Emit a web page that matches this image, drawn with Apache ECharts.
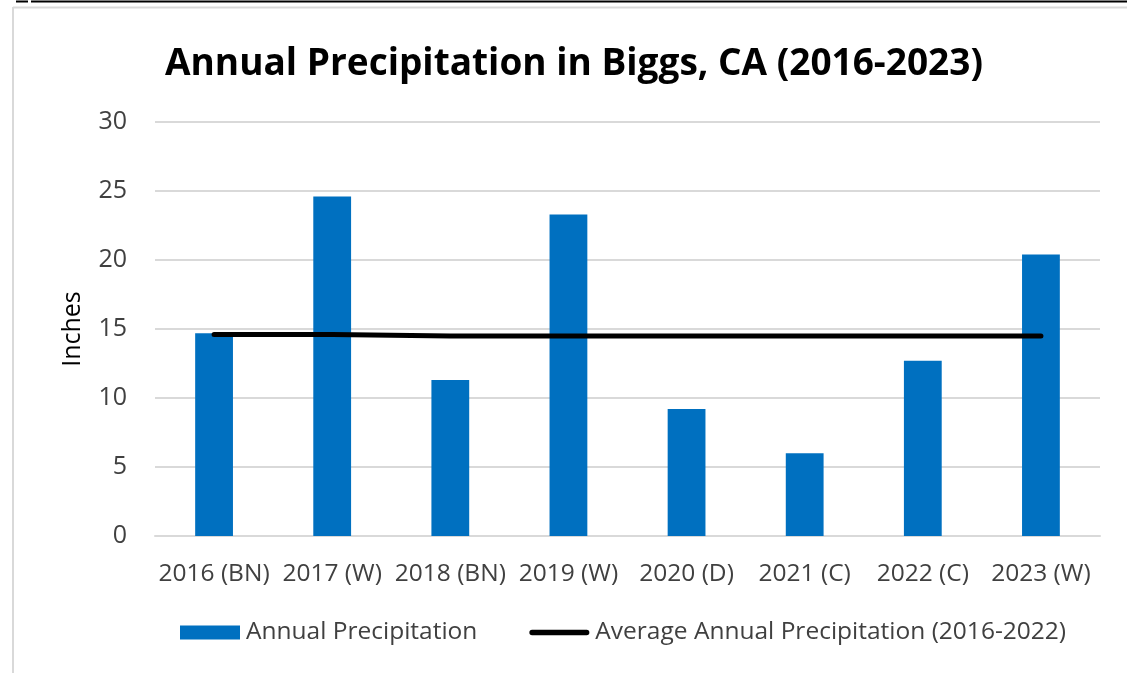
<!DOCTYPE html>
<html>
<head>
<meta charset="utf-8">
<script src="https://cdn.jsdelivr.net/npm/echarts@6/dist/echarts.min.js"></script>
<style>
html,body{margin:0;padding:0;background:#fff;}
#chart{width:1127px;height:673px;}
</style>
</head>
<body>
<div id="chart"></div>
<script>
const categories = ['2016 (BN)', '2017 (W)', '2018 (BN)', '2019 (W)', '2020 (D)', '2021 (C)', '2022 (C)', '2023 (W)'];
const annualPrecip = [14.7, 24.6, 11.3, 23.3, 9.2, 6.0, 12.7, 20.4];
const avgPrecip = [14.6, 14.6, 14.5, 14.5, 14.5, 14.5, 14.5, 14.5];
const yTicks = { min: 0, max: 30, interval: 5 };
const titleText = 'Annual Precipitation in Biggs, CA (2016-2023)';
const yName = 'Inches';
const seriesNames = ['Annual Precipitation', 'Average Annual Precipitation (2016-2022)'];

const FONT = '"Open Sans", "Noto Sans", sans-serif';
const chart = echarts.init(document.getElementById('chart'), null, { renderer: 'canvas' });
chart.setOption({
  backgroundColor: '#ffffff',
  animation: false,
  graphic: [
    { type: 'line', shape: { x1: 16, y1: 1.5, x2: 28, y2: 1.5 }, style: { stroke: '#000', lineWidth: 2 } },
    { type: 'line', shape: { x1: 31, y1: 1.5, x2: 1127, y2: 1.5 }, style: { stroke: '#000', lineWidth: 2 } },
    { type: 'line', shape: { x1: 13, y1: 7.5, x2: 1127, y2: 7.5 }, style: { stroke: '#d9d9d9', lineWidth: 2 } },
    { type: 'line', shape: { x1: 13, y1: 7, x2: 13, y2: 673 }, style: { stroke: '#d9d9d9', lineWidth: 2 } }
  ],
  title: {
    text: titleText,
    left: 160,
    top: 41,
    textStyle: { fontFamily: FONT, fontWeight: 'bold', fontSize: 37, color: '#000' }
  },
  legend: {
    left: 175,
    top: 615,
    itemGap: 52,
    itemWidth: 60,
    itemHeight: 14,
    textStyle: { fontFamily: FONT, fontSize: 24.5, color: '#404040', padding: [0, 0, 0, 1] },
    data: [
      { name: seriesNames[0], icon: 'rect' },
      { name: seriesNames[1], icon: 'path://M3,0 L63,0 A3,3 0 0 1 63,6 L3,6 A3,3 0 0 1 3,0 Z', itemStyle: { color: '#000' } }
    ]
  },
  grid: { left: 155, right: 27, top: 122, bottom: 137, containLabel: false },
  xAxis: {
    type: 'category',
    data: categories,
    axisLine: { show: true, lineStyle: { color: '#d9d9d9', width: 2 } },
    axisTick: { show: false },
    axisLabel: { fontFamily: FONT, fontSize: 24.5, color: '#404040', margin: 26, interval: 0 }
  },
  yAxis: {
    type: 'value',
    min: yTicks.min,
    max: yTicks.max,
    interval: yTicks.interval,
    name: yName,
    nameLocation: 'middle',
    nameGap: 70,
    nameRotate: 90,
    nameTextStyle: { fontFamily: FONT, fontSize: 25, color: '#000' },
    axisLine: { show: false },
    axisTick: { show: false },
    splitLine: { lineStyle: { color: '#d9d9d9', width: 2 } },
    axisLabel: { fontFamily: FONT, fontSize: 25, color: '#404040', margin: 28 }
  },
  series: [
    {
      name: seriesNames[0],
      type: 'bar',
      data: annualPrecip,
      barWidth: '32%',
      itemStyle: { color: '#0070C0' }
    },
    {
      name: seriesNames[1],
      type: 'line',
      data: avgPrecip,
      symbol: 'none',
      lineStyle: { color: '#000', width: 5, cap: 'round' },
      itemStyle: { color: '#000' }
    }
  ]
});
</script>
</body>
</html>
